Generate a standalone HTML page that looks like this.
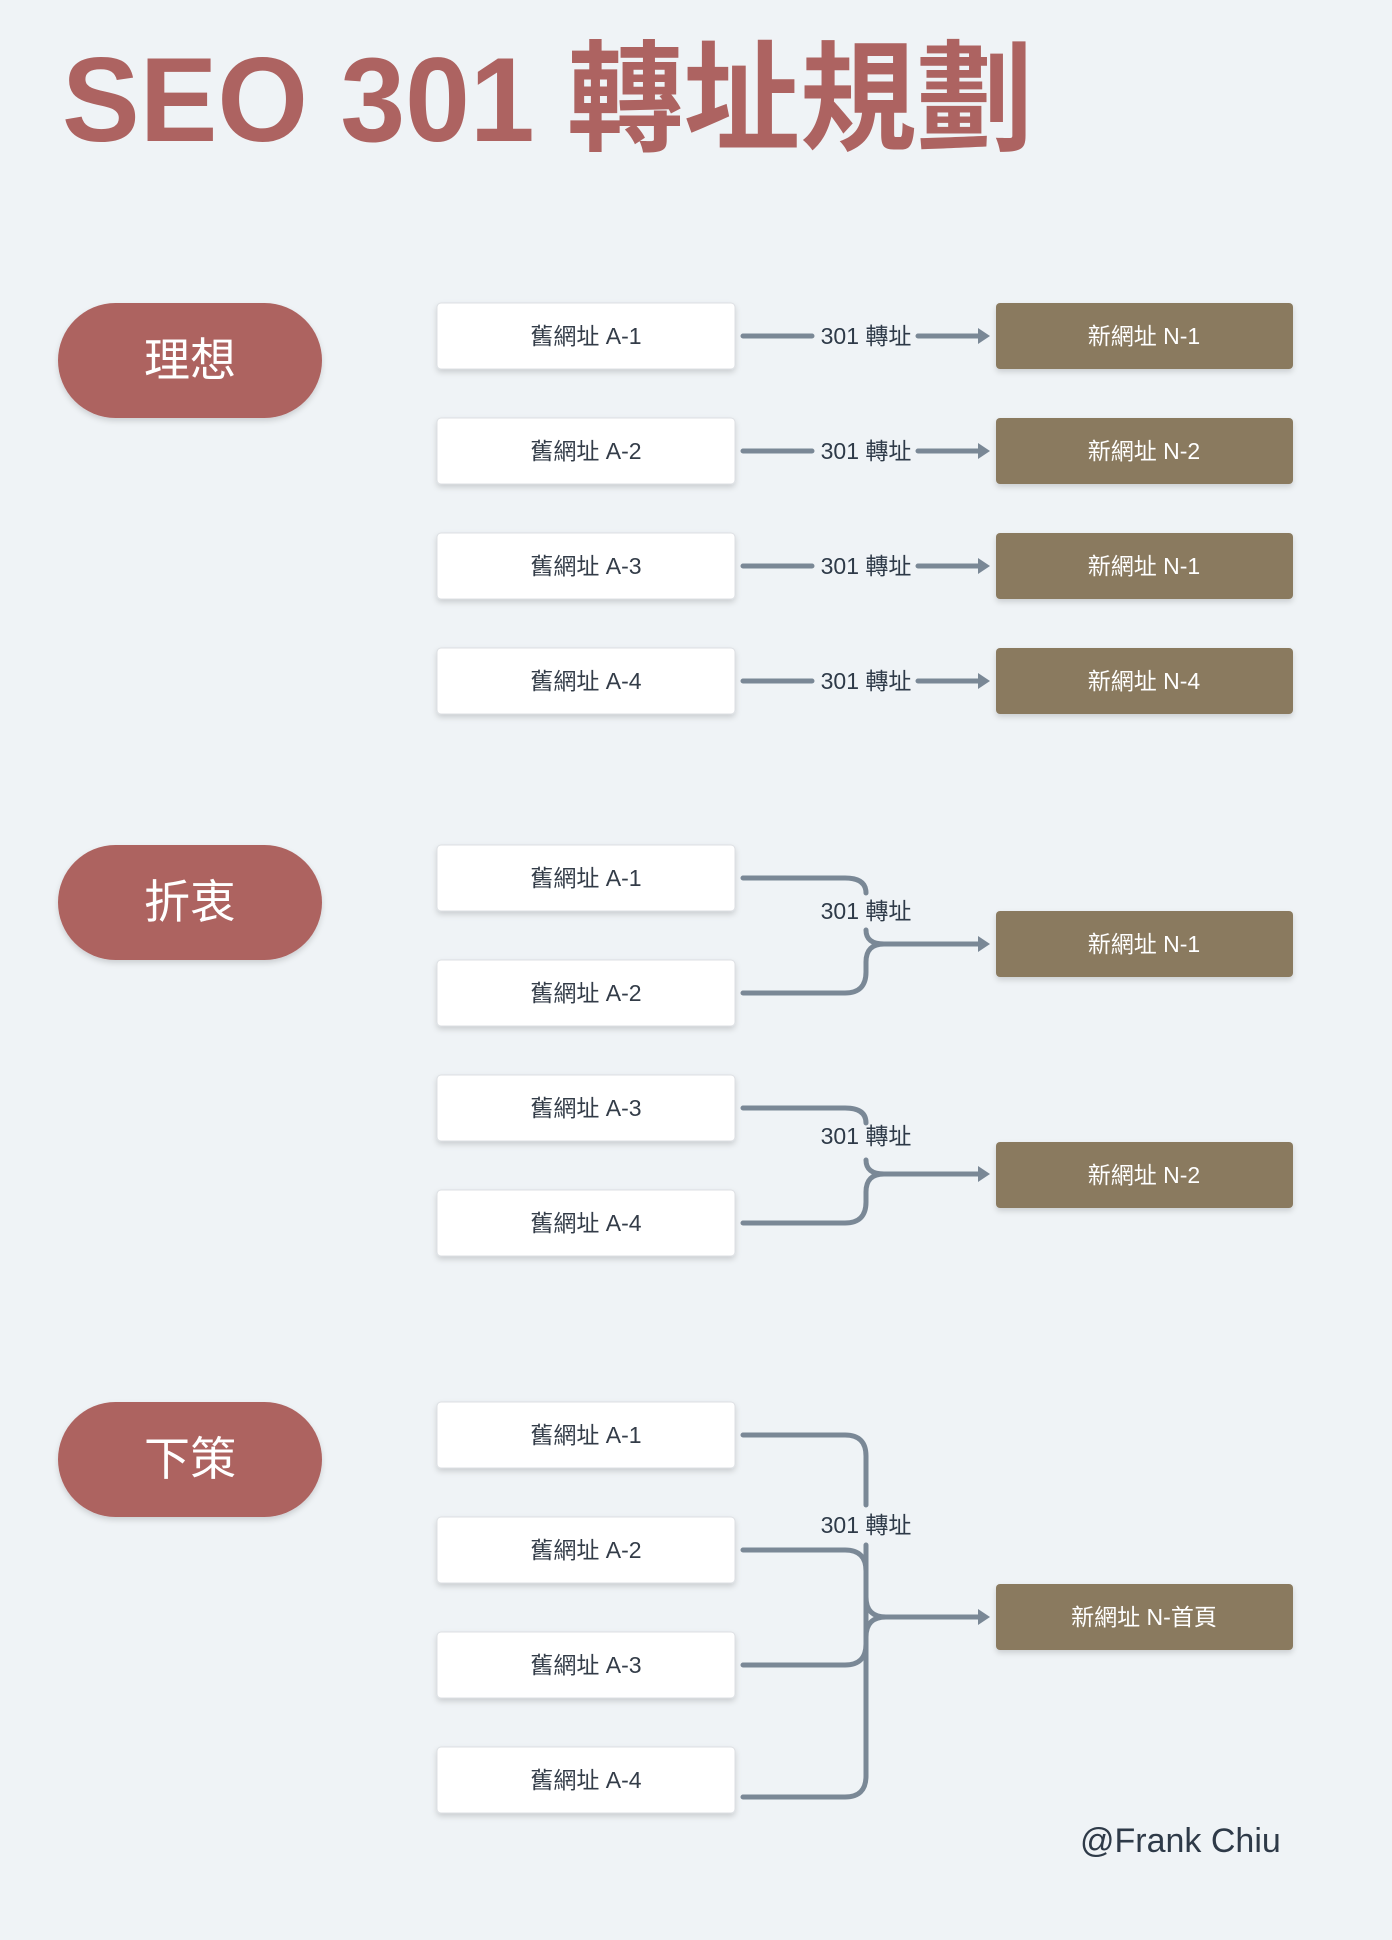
<!DOCTYPE html>
<html><head><meta charset="utf-8"><style>
html,body{margin:0;padding:0;background:#eff3f6;}
svg{display:block;}
text{font-family:"Liberation Sans","Noto Sans CJK TC",sans-serif;}
</style></head><body>
<svg width="1392" height="1940" viewBox="0 0 1392 1940" xmlns="http://www.w3.org/2000/svg">
<defs>
<filter id="sh" x="-10%" y="-20%" width="120%" height="150%"><feDropShadow dx="0" dy="3" stdDeviation="3" flood-color="#000" flood-opacity="0.15"/></filter>
<g id="ah"><polygon points="0,-8 12,0 0,8" fill="#7a8896"/></g>
</defs>
<rect width="1392" height="1940" fill="#eff3f6"/>
<text x="62" y="141" font-size="120" font-weight="bold" fill="#ad6361" textLength="971" lengthAdjust="spacingAndGlyphs">SEO 301 轉址規劃</text>

<g filter="url(#sh)" fill="#ad6361">
<rect x="58" y="303" width="264" height="115" rx="57.5"/>
<rect x="58" y="845" width="264" height="115" rx="57.5"/>
<rect x="58" y="1402" width="264" height="115" rx="57.5"/>
</g>
<g fill="#fff" font-size="46" text-anchor="middle">
<text x="190" y="376">理想</text>
<text x="190" y="918">折衷</text>
<text x="190" y="1475">下策</text>
</g>

<g fill="#fff" stroke="#dcdfe3" stroke-width="1" filter="url(#sh)">
<rect x="437" y="303" width="298" height="66" rx="4"/>
<rect x="437" y="418" width="298" height="66" rx="4"/>
<rect x="437" y="533" width="298" height="66" rx="4"/>
<rect x="437" y="648" width="298" height="66" rx="4"/>
<rect x="437" y="845" width="298" height="66" rx="4"/>
<rect x="437" y="960" width="298" height="66" rx="4"/>
<rect x="437" y="1075" width="298" height="66" rx="4"/>
<rect x="437" y="1190" width="298" height="66" rx="4"/>
<rect x="437" y="1402" width="298" height="66" rx="4"/>
<rect x="437" y="1517" width="298" height="66" rx="4"/>
<rect x="437" y="1632" width="298" height="66" rx="4"/>
<rect x="437" y="1747" width="298" height="66" rx="4"/>
</g>
<g fill="#333c48" font-size="23" text-anchor="middle">
<text x="586" y="344">舊網址 A-1</text>
<text x="586" y="459">舊網址 A-2</text>
<text x="586" y="574">舊網址 A-3</text>
<text x="586" y="689">舊網址 A-4</text>
<text x="586" y="886">舊網址 A-1</text>
<text x="586" y="1001">舊網址 A-2</text>
<text x="586" y="1116">舊網址 A-3</text>
<text x="586" y="1231">舊網址 A-4</text>
<text x="586" y="1443">舊網址 A-1</text>
<text x="586" y="1558">舊網址 A-2</text>
<text x="586" y="1673">舊網址 A-3</text>
<text x="586" y="1788">舊網址 A-4</text>
</g>

<g fill="#8a7a5e" filter="url(#sh)">
<rect x="996" y="303" width="297" height="66" rx="4"/>
<rect x="996" y="418" width="297" height="66" rx="4"/>
<rect x="996" y="533" width="297" height="66" rx="4"/>
<rect x="996" y="648" width="297" height="66" rx="4"/>
<rect x="996" y="911" width="297" height="66" rx="4"/>
<rect x="996" y="1142" width="297" height="66" rx="4"/>
<rect x="996" y="1584" width="297" height="66" rx="4"/>
</g>
<g fill="#fff" font-size="23" text-anchor="middle">
<text x="1144" y="344">新網址 N-1</text>
<text x="1144" y="459">新網址 N-2</text>
<text x="1144" y="574">新網址 N-1</text>
<text x="1144" y="689">新網址 N-4</text>
<text x="1144" y="952">新網址 N-1</text>
<text x="1144" y="1183">新網址 N-2</text>
<text x="1144" y="1625">新網址 N-首頁</text>
</g>

<g fill="none" stroke="#7a8896" stroke-width="5" stroke-linecap="round">
<path d="M743,336 H812 M918,336 H980"/>
<path d="M743,451 H812 M918,451 H980"/>
<path d="M743,566 H812 M918,566 H980"/>
<path d="M743,681 H812 M918,681 H980"/>
<path d="M743,878 H845 Q866,878 866,893"/>
<path d="M866,930 Q866,944 884,944 H980"/>
<path d="M743,993 H845 Q866,993 866,972 V962 Q866,944 884,944"/>
<path d="M743,1108 H845 Q866,1108 866,1123"/>
<path d="M866,1160 Q866,1174 884,1174 H980"/>
<path d="M743,1223 H845 Q866,1223 866,1202 V1192 Q866,1174 884,1174"/>
<path d="M743,1435 H845 Q866,1435 866,1456 V1505"/>
<path d="M866,1545 V1776 Q866,1797 845,1797 H743"/>
<path d="M743,1550 H845 Q866,1550 866,1571 V1597 Q866,1617 886,1617 H980"/>
<path d="M743,1665 H845 Q866,1665 866,1644 V1637 Q866,1617 886,1617"/>
</g>
<g>
<use href="#ah" x="978" y="336"/>
<use href="#ah" x="978" y="451"/>
<use href="#ah" x="978" y="566"/>
<use href="#ah" x="978" y="681"/>
<use href="#ah" x="978" y="944"/>
<use href="#ah" x="978" y="1174"/>
<use href="#ah" x="978" y="1617"/>
</g>
<g fill="#2e3a48" font-size="23" text-anchor="middle">
<text x="866" y="344">301 轉址</text>
<text x="866" y="459">301 轉址</text>
<text x="866" y="574">301 轉址</text>
<text x="866" y="689">301 轉址</text>
<text x="866" y="919">301 轉址</text>
<text x="866" y="1144">301 轉址</text>
<text x="866" y="1533">301 轉址</text>
</g>

<text x="1080" y="1852" font-size="34" fill="#2e3a48">@Frank Chiu</text>
</svg>
</body></html>
